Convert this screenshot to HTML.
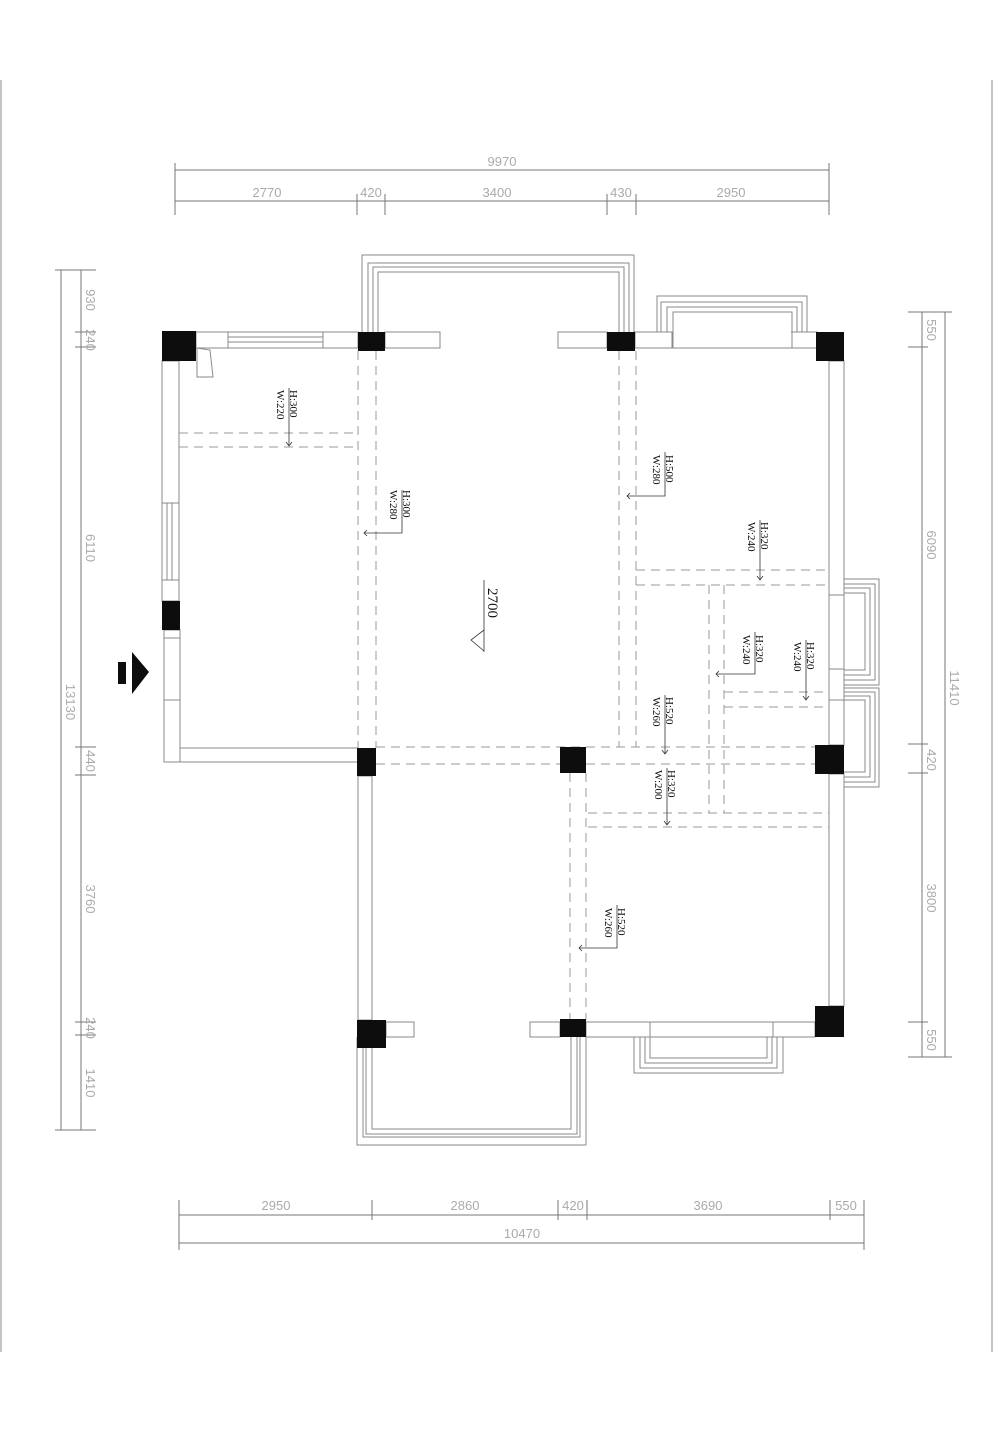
<!DOCTYPE html>
<html><head><meta charset="utf-8"><style>
html,body{margin:0;padding:0;background:#fff;}
svg{display:block;}
.w{fill:#fff;stroke:#8a8a8a;stroke-width:1}
.l{stroke:#8a8a8a;stroke-width:1;fill:none}
.d{stroke:#9a9a9a;stroke-width:1;fill:none;stroke-dasharray:9,6}
.dim{stroke:#777;stroke-width:1;fill:none}
.dt{font-family:"Liberation Sans",sans-serif;font-size:13px;fill:#aaa;text-anchor:middle}
.lt{font-family:"Liberation Serif",serif;font-size:11px;fill:#111}
.col{fill:#0d0d0d}
.ld{stroke:#333;stroke-width:0.8;fill:none}
</style></head><body>
<svg width="1000" height="1432" viewBox="0 0 1000 1432" xmlns="http://www.w3.org/2000/svg">
<line x1="1" y1="80" x2="1" y2="1352" class="l"/>
<line x1="992" y1="80" x2="992" y2="1352" class="l"/>

<g class="dim">
<line x1="175" y1="170" x2="829" y2="170"/>
<line x1="175" y1="201" x2="829" y2="201"/>
<line x1="175" y1="163" x2="175" y2="215"/>
<line x1="829" y1="163" x2="829" y2="215"/>
<line x1="357" y1="194" x2="357" y2="215"/>
<line x1="385" y1="194" x2="385" y2="215"/>
<line x1="607" y1="194" x2="607" y2="215"/>
<line x1="636" y1="194" x2="636" y2="215"/>
</g>
<text class="dt" x="502" y="166">9970</text>
<text class="dt" x="267" y="197">2770</text>
<text class="dt" x="371" y="197">420</text>
<text class="dt" x="497" y="197">3400</text>
<text class="dt" x="621" y="197">430</text>
<text class="dt" x="731" y="197">2950</text>

<g class="dim">
<line x1="61" y1="270" x2="61" y2="1130"/>
<line x1="81" y1="270" x2="81" y2="1130"/>
<line x1="55" y1="270" x2="96" y2="270"/>
<line x1="55" y1="1130" x2="96" y2="1130"/>
<line x1="75" y1="332" x2="96" y2="332"/>
<line x1="75" y1="347" x2="96" y2="347"/>
<line x1="75" y1="747" x2="96" y2="747"/>
<line x1="75" y1="775" x2="96" y2="775"/>
<line x1="75" y1="1022" x2="96" y2="1022"/>
<line x1="75" y1="1035" x2="96" y2="1035"/>
</g>
<g class="dt">
<text transform="translate(86,300) rotate(90)">930</text>
<text transform="translate(86,340) rotate(90)">240</text>
<text transform="translate(86,548) rotate(90)">6110</text>
<text transform="translate(66,702) rotate(90)">13130</text>
<text transform="translate(86,761) rotate(90)">440</text>
<text transform="translate(86,899) rotate(90)">3760</text>
<text transform="translate(86,1028) rotate(90)">240</text>
<text transform="translate(86,1083) rotate(90)">1410</text>
</g>

<g class="dim">
<line x1="922" y1="312" x2="922" y2="1057"/>
<line x1="945" y1="312" x2="945" y2="1057"/>
<line x1="908" y1="312" x2="952" y2="312"/>
<line x1="908" y1="1057" x2="952" y2="1057"/>
<line x1="908" y1="347" x2="928" y2="347"/>
<line x1="908" y1="744" x2="928" y2="744"/>
<line x1="908" y1="773" x2="928" y2="773"/>
<line x1="908" y1="1022" x2="928" y2="1022"/>
</g>
<g class="dt">
<text transform="translate(927,330) rotate(90)">550</text>
<text transform="translate(927,545) rotate(90)">6090</text>
<text transform="translate(950,688) rotate(90)">11410</text>
<text transform="translate(927,760) rotate(90)">420</text>
<text transform="translate(927,898) rotate(90)">3800</text>
<text transform="translate(927,1040) rotate(90)">550</text>
</g>

<g class="dim">
<line x1="179" y1="1215" x2="864" y2="1215"/>
<line x1="179" y1="1243" x2="864" y2="1243"/>
<line x1="179" y1="1200" x2="179" y2="1250"/>
<line x1="864" y1="1200" x2="864" y2="1250"/>
<line x1="372" y1="1200" x2="372" y2="1220"/>
<line x1="558" y1="1200" x2="558" y2="1220"/>
<line x1="587" y1="1200" x2="587" y2="1220"/>
<line x1="830" y1="1200" x2="830" y2="1220"/>
</g>
<text class="dt" x="276" y="1210">2950</text>
<text class="dt" x="465" y="1210">2860</text>
<text class="dt" x="573" y="1210">420</text>
<text class="dt" x="708" y="1210">3690</text>
<text class="dt" x="846" y="1210">550</text>
<text class="dt" x="522" y="1238">10470</text>

<g class="l">
<polyline points="362,332 362,255 634,255 634,332"/>
<polyline points="368,332 368,263 629,263 629,332"/>
<polyline points="373,332 373,267 624,267 624,332"/>
<polyline points="378,332 378,272 619,272 619,332"/>
</g>
<g class="l">
<polyline points="657,332 657,296 807,296 807,332"/>
<polyline points="661,332 661,302 802,302 802,332"/>
<polyline points="667,332 667,307 797,307 797,332"/>
<polyline points="673,332 673,312 792,312 792,332"/>
</g>
<g class="l">
<polyline points="844,579 879,579 879,685 844,685"/>
<polyline points="844,584 875,584 875,680 844,680"/>
<polyline points="844,588 870,588 870,675 844,675"/>
<polyline points="844,593 865,593 865,670 844,670"/>
<polyline points="844,688 879,688 879,787 844,787"/>
<polyline points="844,692 875,692 875,782 844,782"/>
<polyline points="844,696 870,696 870,777 844,777"/>
<polyline points="844,700 865,700 865,772 844,772"/>
</g>
<g class="l">
<polyline points="357,1037 357,1145 586,1145 586,1037"/>
<polyline points="363,1037 363,1137 580,1137 580,1037"/>
<polyline points="366,1037 366,1134 577,1134 577,1037"/>
<polyline points="372,1037 372,1129 571,1129 571,1037"/>
<polyline points="634,1037 634,1073 783,1073 783,1037"/>
<polyline points="640,1037 640,1068 777,1068 777,1037"/>
<polyline points="645,1037 645,1063 772,1063 772,1037"/>
<polyline points="650,1037 650,1058 767,1058 767,1037"/>
</g>

<rect class="w" x="196" y="332" width="162" height="16"/>
<line class="l" x1="228" y1="332" x2="228" y2="348"/>
<line class="l" x1="323" y1="332" x2="323" y2="348"/>
<line class="l" x1="228" y1="337" x2="323" y2="337"/>
<line class="l" x1="228" y1="342" x2="323" y2="342"/>
<rect class="w" x="385" y="332" width="55" height="16"/>
<rect class="w" x="558" y="332" width="49" height="16"/>
<rect class="w" x="635" y="332" width="182" height="16"/>
<line class="l" x1="672" y1="332" x2="672" y2="348"/>
<line class="l" x1="792" y1="332" x2="792" y2="348"/>
<rect fill="#fff" x="673" y="313" width="118" height="34"/>
<polyline class="l" points="673,348 673,312 792,312 792,348"/>
<polygon class="l" points="197,348 210,350 213,377 197,377"/>
<rect class="w" x="162" y="361" width="17" height="240"/>
<line class="l" x1="162" y1="503" x2="179" y2="503"/>
<line class="l" x1="162" y1="580" x2="179" y2="580"/>
<line class="l" x1="167" y1="503" x2="167" y2="580"/>
<line class="l" x1="172" y1="503" x2="172" y2="580"/>
<rect class="w" x="164" y="630" width="16" height="132"/>
<line class="l" x1="164" y1="638" x2="180" y2="638"/>
<line class="l" x1="164" y1="700" x2="180" y2="700"/>
<polyline class="l" points="180,638 180,748 358,748"/>
<polyline class="l" points="164,762 358,762"/>
<rect class="w" x="358" y="776" width="14" height="244"/>
<rect class="w" x="386" y="1022" width="28" height="15"/>
<rect class="w" x="530" y="1022" width="30" height="15"/>
<rect class="w" x="586" y="1022" width="229" height="15"/>
<line class="l" x1="650" y1="1022" x2="650" y2="1037"/>
<line class="l" x1="773" y1="1022" x2="773" y2="1037"/>
<rect class="w" x="829" y="361" width="15" height="384"/>
<rect class="w" x="829" y="774" width="15" height="232"/>
<rect class="w" x="829" y="595" width="15" height="74"/>
<rect class="w" x="829" y="700" width="15" height="45"/>

<g class="d">
<line x1="358" y1="351" x2="358" y2="748"/>
<line x1="376" y1="351" x2="376" y2="748"/>
<line x1="179" y1="433" x2="358" y2="433"/>
<line x1="179" y1="447" x2="358" y2="447"/>
<line x1="619" y1="351" x2="619" y2="747"/>
<line x1="636" y1="351" x2="636" y2="747"/>
<line x1="636" y1="570" x2="829" y2="570"/>
<line x1="636" y1="585" x2="829" y2="585"/>
<line x1="709" y1="585" x2="709" y2="813"/>
<line x1="724" y1="585" x2="724" y2="813"/>
<line x1="724" y1="692" x2="829" y2="692"/>
<line x1="724" y1="707" x2="829" y2="707"/>
<line x1="376" y1="747" x2="815" y2="747"/>
<line x1="376" y1="764" x2="815" y2="764"/>
<line x1="570" y1="773" x2="570" y2="1020"/>
<line x1="586" y1="773" x2="586" y2="1020"/>
<line x1="588" y1="813" x2="829" y2="813"/>
<line x1="588" y1="827" x2="829" y2="827"/>
</g>

<rect class="col" x="162" y="331" width="34" height="30"/>
<rect class="col" x="358" y="332" width="27" height="19"/>
<rect class="col" x="607" y="332" width="28" height="19"/>
<rect class="col" x="816" y="332" width="28" height="29"/>
<rect class="col" x="162" y="601" width="18" height="29"/>
<rect class="col" x="357" y="748" width="19" height="28"/>
<rect class="col" x="560" y="747" width="26" height="26"/>
<rect class="col" x="815" y="745" width="29" height="29"/>
<rect class="col" x="357" y="1020" width="29" height="28"/>
<rect class="col" x="560" y="1019" width="26" height="18"/>
<rect class="col" x="815" y="1006" width="29" height="31"/>

<g class="ld">
<polyline points="289,388 289,446"/><polyline points="286,442 289,446 292,442"/>
<polyline points="402,490 402,533 364,533"/><polyline points="367,530 364,533 367,536"/>
<polyline points="665,452 665,496 627,496"/><polyline points="630,493 627,496 630,499"/>
<polyline points="760,520 760,580"/><polyline points="757,576 760,580 763,576"/>
<polyline points="755,632 755,674 716,674"/><polyline points="719,671 716,674 719,677"/>
<polyline points="806,640 806,700"/><polyline points="803,696 806,700 809,696"/>
<polyline points="665,695 665,754"/><polyline points="662,750 665,754 668,750"/>
<polyline points="667,768 667,825"/><polyline points="664,821 667,825 670,821"/>
<polyline points="617,905 617,948 579,948"/><polyline points="582,945 579,948 582,951"/>
</g>
<g class="lt">
<text transform="translate(290,390) rotate(90)">H:300</text>
<text transform="translate(277,390) rotate(90)">W:220</text>
<text transform="translate(403,490) rotate(90)">H:300</text>
<text transform="translate(390,490) rotate(90)">W:280</text>
<text transform="translate(666,455) rotate(90)">H:500</text>
<text transform="translate(653,455) rotate(90)">W:280</text>
<text transform="translate(761,522) rotate(90)">H:320</text>
<text transform="translate(748,522) rotate(90)">W:240</text>
<text transform="translate(756,635) rotate(90)">H:320</text>
<text transform="translate(743,635) rotate(90)">W:240</text>
<text transform="translate(807,642) rotate(90)">H:320</text>
<text transform="translate(794,642) rotate(90)">W:240</text>
<text transform="translate(666,697) rotate(90)">H:520</text>
<text transform="translate(653,697) rotate(90)">W:260</text>
<text transform="translate(668,770) rotate(90)">H:320</text>
<text transform="translate(655,770) rotate(90)">W:200</text>
<text transform="translate(618,908) rotate(90)">H:520</text>
<text transform="translate(605,908) rotate(90)">W:260</text>
</g>

<line class="ld" x1="484" y1="580" x2="484" y2="652"/>
<text transform="translate(488,588) rotate(90)" style="font-family:'Liberation Serif',serif;font-size:15px;fill:#111">2700</text>
<polyline class="ld" points="484,630 471,640 484,651"/>

<rect class="col" x="118" y="662" width="8" height="22"/>
<polygon class="col" points="132,652 149,672 132,694"/>
</svg>
</body></html>
